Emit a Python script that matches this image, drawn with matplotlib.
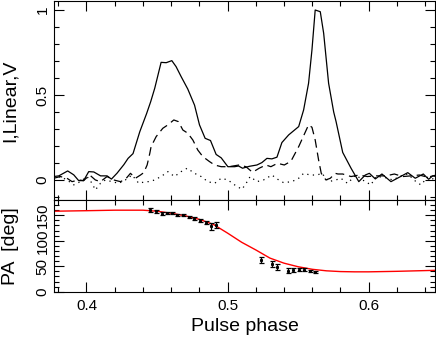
import numpy as np
import matplotlib
matplotlib.use('Agg')
import matplotlib.pyplot as plt
from matplotlib.ticker import MultipleLocator

plt.rcParams['font.family'] = ['Liberation Sans', 'DejaVu Sans']

# total intensity (solid)
i_phase = [0.3768, 0.3804, 0.3867, 0.391, 0.3945, 0.398, 0.4016, 0.4052, 0.41, 0.4146,
           0.4177, 0.4217, 0.4265, 0.4295, 0.433, 0.4378, 0.4426, 0.4455, 0.4484, 0.4529,
           0.4565, 0.4605, 0.4635, 0.4671, 0.4718, 0.4766, 0.4801, 0.4841, 0.4879, 0.4919,
           0.4955, 0.5002, 0.505, 0.5078, 0.5106, 0.5153, 0.5208, 0.5243, 0.5279, 0.5314,
           0.535, 0.5385, 0.5433, 0.5504, 0.5539, 0.5574, 0.5598, 0.5621, 0.5657, 0.5681,
           0.5716, 0.5752, 0.5769, 0.5816, 0.5875, 0.593, 0.5976, 0.6005, 0.6047, 0.6094,
           0.6158, 0.6217, 0.6277, 0.633, 0.6387, 0.6425, 0.6454, 0.648]
i_val = [0.02, 0.024, 0.053, 0.03, -0.004, -0.004, 0.049, 0.047, 0.024, 0.024,
         0.005, 0.04, 0.09, 0.127, 0.155, 0.284, 0.39, 0.46, 0.54, 0.692,
         0.69, 0.702, 0.667, 0.608, 0.535, 0.44, 0.324, 0.245, 0.232, 0.15,
         0.13, 0.078, 0.078, 0.082, 0.069, 0.08, 0.088, 0.102, 0.127, 0.124,
         0.134, 0.22, 0.265, 0.314, 0.412, 0.569, 0.765, 1.0, 0.99, 0.863,
         0.569, 0.40, 0.343, 0.162, 0.069, -0.01, 0.029, 0.039, 0.006, 0.035,
         -0.01, 0.016, 0.043, 0.01, 0.035, 0.004, 0.024, 0.02]

# linear polarisation (dashed)
l_phase = [0.3768, 0.3815, 0.3862, 0.3898, 0.3945, 0.398, 0.4023, 0.4063, 0.4099, 0.4146,
           0.4193, 0.4241, 0.4276, 0.4312, 0.4347, 0.4383, 0.4406, 0.443, 0.4449, 0.4458,
           0.4494, 0.4541, 0.4577, 0.4619, 0.4652, 0.4683, 0.4718, 0.4754, 0.4789, 0.4825,
           0.4872, 0.4908, 0.4955, 0.501, 0.5082, 0.513, 0.5177, 0.5224, 0.5272, 0.5307,
           0.5354, 0.5402, 0.5449, 0.5504, 0.5539, 0.5574, 0.5598, 0.5621, 0.5645, 0.5664,
           0.5697, 0.5728, 0.5763, 0.5782, 0.5816, 0.5875, 0.5933, 0.599, 0.6052, 0.6123,
           0.6182, 0.6241, 0.63, 0.6359, 0.6418, 0.648]
l_val = [0.01, 0.02, 0.01, -0.01, 0.0, -0.004, 0.029, 0.0, -0.01, 0.02,
         0.0, -0.01, 0.004, 0.039, 0.01, 0.029, 0.043, 0.088, 0.157, 0.196,
         0.255, 0.304, 0.324, 0.353, 0.343, 0.294, 0.275, 0.235, 0.176, 0.137,
         0.108, 0.088, 0.078, 0.078, 0.088, 0.078, 0.045, 0.069, 0.088, 0.078,
         0.098, 0.088, 0.11, 0.196, 0.26, 0.324, 0.31, 0.235, 0.118, 0.039,
         0.0, 0.01, 0.039, 0.035, 0.035, 0.02, 0.029, 0.02, 0.024, 0.024,
         0.035, 0.02, 0.024, 0.029, 0.016, 0.029]

# circular polarisation (dotted)
v_phase = [0.3768, 0.3815, 0.3862, 0.391, 0.3957, 0.4004, 0.404, 0.4063, 0.4099, 0.4134,
           0.4181, 0.4229, 0.4276, 0.4323, 0.4371, 0.4418, 0.4449, 0.4482, 0.4529, 0.4577,
           0.4624, 0.4671, 0.4714, 0.4766, 0.4813, 0.486, 0.4908, 0.4955, 0.5002, 0.505,
           0.5101, 0.5125, 0.516, 0.5208, 0.5255, 0.5314, 0.5362, 0.5397, 0.5456, 0.5504,
           0.5539, 0.5586, 0.5634, 0.5669, 0.5716, 0.5768, 0.5803, 0.585, 0.5909, 0.5957,
           0.6016, 0.6052, 0.611, 0.617, 0.6229, 0.6277, 0.6335, 0.637, 0.6418, 0.648]
v_val = [0.004, 0.02, 0.0, -0.029, -0.01, 0.02, -0.02, -0.059, -0.02, 0.0,
         -0.01, -0.02, 0.0, 0.029, -0.02, -0.01, -0.01, 0.0, 0.02, 0.049,
         0.02, 0.049, 0.069, 0.039, 0.02, -0.01, -0.02, 0.01, 0.0, -0.029,
         -0.055, -0.029, 0.02, -0.01, 0.0, 0.029, 0.0, -0.016, -0.01, 0.01,
         0.039, 0.029, 0.029, 0.039, -0.01, 0.0, 0.01, -0.02, 0.029, 0.0,
         -0.029, 0.02, 0.016, 0.0, 0.024, 0.035, -0.01, -0.029, 0.016, 0.0]

# position angle measurements
pa_phase = [0.4449, 0.4491, 0.4532, 0.457, 0.4607, 0.4645, 0.4685, 0.4726, 0.4763, 0.4804,
            0.4844, 0.4882, 0.4919, 0.5234, 0.5312, 0.5352, 0.5428, 0.5465, 0.5506, 0.5543,
            0.5584, 0.5621]
pa_val = [160, 158, 153, 155, 154, 151, 151, 147, 143, 139,
          135, 128, 131, 62, 55, 49, 41, 43, 43, 43,
          41, 39]
pa_err = [4, 3, 3, 2, 2, 2, 2, 2, 3, 3,
          3, 6, 6.5, 6, 6, 6, 5, 4.5, 3, 3,
          2, 2]

# RVM fit
fit_phase = [0.377, 0.40, 0.42, 0.44, 0.45, 0.46, 0.47, 0.48, 0.49, 0.50,
             0.51, 0.52, 0.53, 0.54, 0.55, 0.56, 0.57, 0.58, 0.59, 0.60,
             0.62, 0.648]
fit_val = [158, 159, 160, 160, 158, 154, 149, 142, 132, 115,
           97, 82, 66, 56, 49, 44, 41, 39.5, 39, 39,
           40, 42]

fig = plt.figure(figsize=(4.36, 3.41), dpi=100)
ax1 = fig.add_axes([54/436, 1 - 200/341, 381/436, 199/341])
ax2 = fig.add_axes([54/436, 1 - 291.7/341, 381/436, 91.7/341])

ax1.plot(i_phase, i_val, '-', color='black', lw=0.9)
ax1.plot(l_phase, l_val, color='black', lw=0.9, dashes=(7, 4))
ax1.plot(v_phase, v_val, color='black', lw=0.9, dashes=(1, 3.5))
ax1.set_xlim(0.377, 0.647)
ax1.set_ylim(-0.118, 1.053)
ax1.set_ylabel('I,Linear,V', fontsize=14)
ax1.yaxis.set_label_coords(-0.093, 0.5)
ax1.yaxis.set_minor_locator(MultipleLocator(0.1))
ax1.set_yticks([0, 0.5, 1])
ax1.set_yticklabels(['0', '0.5', '1'])
ax1.tick_params(labelbottom=False)

ax2.plot(fit_phase, fit_val, '-', color='red', lw=1.0)
ax2.errorbar(pa_phase, pa_val, yerr=pa_err, fmt='s', ms=1.2, color='black',
             ecolor='black', elinewidth=0.9, capsize=1.8, capthick=0.9)
ax2.set_xlim(0.377, 0.647)
ax2.set_ylim(0, 180)
ax2.set_yticks([0, 50, 100, 150])
ax2.yaxis.set_minor_locator(MultipleLocator(10))
ax2.set_ylabel('PA  [deg]', fontsize=14)
ax2.yaxis.set_label_coords(-0.093, 0.5)
ax2.set_xlabel('Pulse phase', fontsize=14, labelpad=4)

for ax in (ax1, ax2):
    ax.xaxis.set_major_locator(MultipleLocator(0.1))
    ax.xaxis.set_minor_locator(MultipleLocator(0.02))
    ax.tick_params(which='both', direction='in', top=True, right=True, width=0.8)
    ax.tick_params(which='major', length=7)
    ax.tick_params(which='minor', length=3.5)
    ax.tick_params(axis='x', labelsize=11, pad=5)
    ax.tick_params(axis='y', labelsize=11, pad=3)
    for lab in ax.get_yticklabels():
        lab.set_rotation(90)
        lab.set_va('center')
    for s in ax.spines.values():
        s.set_linewidth(0.8)

fig.savefig('out.png', dpi=100)
